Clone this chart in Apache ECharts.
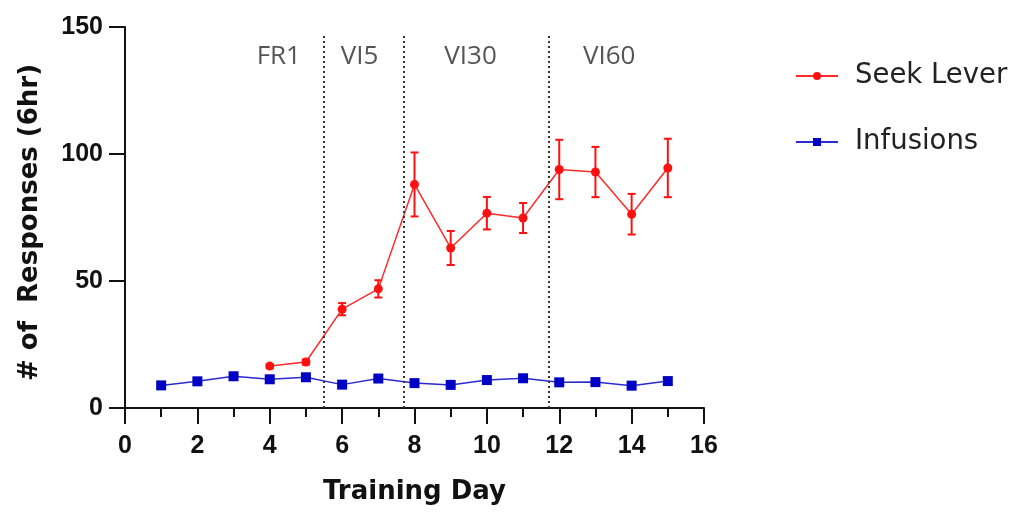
<!DOCTYPE html>
<html>
<head>
<meta charset="utf-8">
<script src="https://cdn.jsdelivr.net/npm/echarts@6/dist/echarts.min.js"></script>
<style>
  html, body { margin: 0; padding: 0; background: #fff; }
  #chart { width: 1019px; height: 512px; }
</style>
</head>
<body>
<div id="chart"></div>
<script>
// Training days 1..15
const days = [1, 2, 3, 4, 5, 6, 7, 8, 9, 10, 11, 12, 13, 14, 15];

// Seek lever presses (mean and SEM); no seek lever before day 4
const seekMean = [null, null, null, 16.5, 18.1, 38.9, 46.9, 88.0, 63.0, 76.7, 74.8, 93.9, 92.9, 76.3, 94.5];
const seekSem  = [null, null, null, 0.8, 1.0, 2.4, 3.4, 12.6, 6.7, 6.4, 5.9, 11.7, 9.9, 8.0, 11.5];

// Infusions (mean)
const infusionMean = [8.9, 10.5, 12.5, 11.3, 12.1, 9.2, 11.6, 9.8, 9.1, 11.0, 11.7, 10.1, 10.2, 8.8, 10.6];

// Schedule phases: boundaries between them and the day each name is centred on
const phaseBoundaries = [5.5, 7.7, 11.7];
const phaseNames = ['FR1', 'VI5', 'VI30', 'VI60'];
const phaseLabelDay = [4.25, 6.48, 9.55, 13.38];

const xTicks = { min: 0, max: 16, interval: 2 };
const yTicks = { min: 0, max: 150, interval: 50 };

const RED = '#ff1010';
const BLUE = '#0000c4';
const TITLE_FONT = 'DejaVu Sans';
const TICK_FONT = 'Liberation Sans';

const seekData = days.map((d, i) => [d, seekMean[i]]);
const infusionData = days.map((d, i) => [d, infusionMean[i]]);
const errorData = days
  .map((d, i) => seekMean[i] == null ? null : [d, seekMean[i] - seekSem[i], seekMean[i] + seekSem[i]])
  .filter(v => v !== null);
const phaseLabelData = phaseNames.map((n, i) => [phaseLabelDay[i], 138.2, n]);

const chart = echarts.init(document.getElementById('chart'), null, { renderer: 'canvas' });

const option = {
  backgroundColor: '#ffffff',
  animation: false,
  grid: { left: 125, right: 315, top: 27, bottom: 104 },
  legend: {
    data: ['Seek Lever', 'Infusions'],
    orient: 'vertical',
    left: 790,
    top: 57,
    itemWidth: 42,
    itemHeight: 10,
    itemGap: 38,
    textStyle: {
      fontFamily: 'DejaVu Sans',
      fontSize: 27.5,
      color: '#222',
      padding: [0, 0, 0, 12]
    }
  },
  xAxis: {
    type: 'value',
    min: xTicks.min,
    max: xTicks.max,
    interval: xTicks.interval,
    name: 'Training Day',
    nameLocation: 'middle',
    nameGap: 71,
    nameTextStyle: { fontFamily: TITLE_FONT, fontWeight: 'bold', fontSize: 26, color: '#111' },
    axisLine: { lineStyle: { color: '#111', width: 2 } },
    axisTick: { length: 16, lineStyle: { color: '#111', width: 2 } },
    minorTick: { show: true, splitNumber: 2, length: 9, lineStyle: { color: '#111', width: 2 } },
    axisLabel: { margin: 26, fontFamily: TICK_FONT, fontWeight: 'bold', fontSize: 25, color: '#111' },
    splitLine: { show: false }
  },
  yAxis: {
    type: 'value',
    min: yTicks.min,
    max: yTicks.max,
    interval: yTicks.interval,
    name: '# of  Responses (6hr)',
    nameLocation: 'middle',
    nameGap: 82,
    nameTextStyle: {
      fontFamily: TITLE_FONT, fontWeight: 'bold', fontSize: 26, color: '#111',
      padding: [0, 10, 0, 0]
    },
    axisLine: { show: true, lineStyle: { color: '#111', width: 2 } },
    axisTick: { show: true, length: 16, lineStyle: { color: '#111', width: 2 } },
    axisLabel: { margin: 22, fontFamily: TICK_FONT, fontWeight: 'bold', fontSize: 25, color: '#111' },
    splitLine: { show: false }
  },
  series: [
    {
      name: 'Infusions',
      type: 'line',
      data: infusionData,
      symbol: 'rect',
      symbolSize: 10,
      itemStyle: { color: BLUE },
      lineStyle: { color: '#2a2ad0', width: 1.5 },
      z: 3,
      markLine: {
        silent: true,
        symbol: 'none',
        label: { show: false },
        lineStyle: { color: '#333', width: 2, type: [2, 3] },
        data: phaseBoundaries.map(b => [{ coord: [b, 0] }, { coord: [b, 147] }])
      }
    },
    {
      name: 'Seek Lever',
      type: 'line',
      data: seekData,
      symbol: 'circle',
      symbolSize: 9,
      itemStyle: { color: RED },
      lineStyle: { color: '#ff2a2a', width: 1.5 },
      z: 4
    },
    {
      name: 'Seek Lever SEM',
      type: 'custom',
      data: errorData,
      encode: { x: 0, y: [1, 2] },
      z: 4,
      silent: true,
      renderItem: function (params, api) {
        const x = api.value(0);
        const lo = api.coord([x, api.value(1)]);
        const hi = api.coord([x, api.value(2)]);
        const cap = 4;
        const style = { stroke: RED, lineWidth: 2 };
        return {
          type: 'group',
          children: [
            { type: 'line', shape: { x1: hi[0], y1: hi[1], x2: lo[0], y2: lo[1] }, style: style },
            { type: 'line', shape: { x1: hi[0] - cap, y1: hi[1], x2: hi[0] + cap, y2: hi[1] }, style: style },
            { type: 'line', shape: { x1: lo[0] - cap, y1: lo[1], x2: lo[0] + cap, y2: lo[1] }, style: style }
          ]
        };
      }
    },
    {
      name: 'Phase',
      type: 'scatter',
      data: phaseLabelData,
      symbolSize: 0,
      silent: true,
      label: {
        show: true,
        position: 'inside',
        formatter: p => p.value[2],
        fontFamily: 'Open Sans',
        fontSize: 26,
        color: '#2a2a2a'
      }
    }
  ]
};

chart.setOption(option);
</script>
</body>
</html>
